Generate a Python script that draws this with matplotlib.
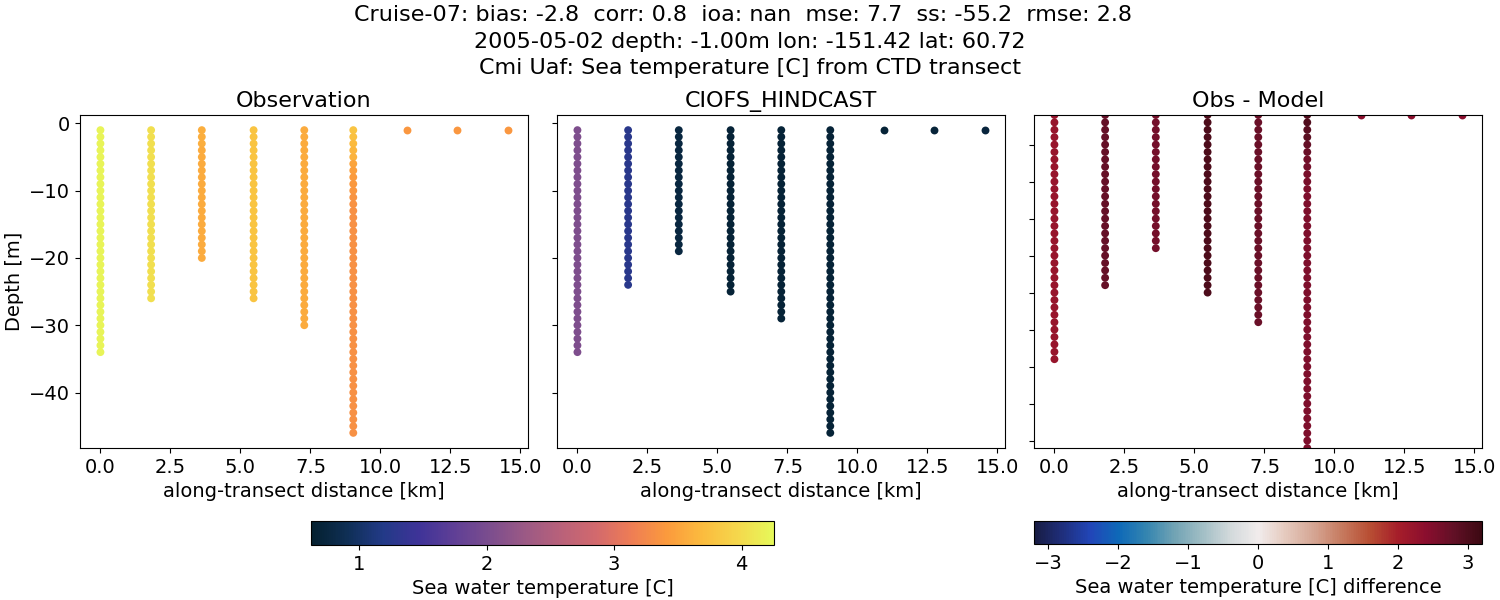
import matplotlib
matplotlib.use("Agg")
import matplotlib.pyplot as plt
from matplotlib.colors import LinearSegmentedColormap, Normalize
from matplotlib.cm import ScalarMappable

plt.rcParams["font.size"] = 14

SUPTITLE = ("Cruise-07: bias: -2.8  corr: 0.8  ioa: nan  mse: 7.7  ss: -55.2  rmse: 2.8  \n"
            "2005-05-02 depth: -1.00m lon: -151.42 lat: 60.72\n"
            "Cmi Uaf: Sea temperature [C] from CTD transect")

# station positions along the transect, km
distance = [0.0, 1.81, 3.62, 5.47, 7.28, 9.03, 10.94, 12.74, 14.55]

depths = [-1, -2, -3, -4, -5, -6, -7, -8, -9, -10, -11, -12, -13, -14, -15, -16,
          -17, -18, -19, -20, -21, -22, -23, -24, -25, -26, -27, -28, -29, -30,
          -31, -32, -33, -34, -35, -36, -37, -38, -39, -40, -41, -42, -43, -44,
          -45, -46]

# one temperature list per station, top to bottom
obs_temp = [
    [4.2] * 34,
    [4.03] * 26,
    [3.58, 3.58, 3.58, 3.55, 3.55, 3.55, 3.55, 3.55, 3.55, 3.55, 3.55, 3.55,
     3.55, 3.55, 3.55, 3.55, 3.55, 3.55, 3.55, 3.55],
    [3.78] * 26,
    [3.55] * 30,
    [3.78, 3.75, 3.68, 3.65, 3.62, 3.5, 3.45, 3.42, 3.4, 3.38, 3.35, 3.34, 3.33,
     3.33, 3.33, 3.33, 3.33, 3.33, 3.33, 3.33, 3.33, 3.33, 3.33, 3.33, 3.33,
     3.33, 3.33, 3.33, 3.33, 3.33, 3.33, 3.33, 3.33, 3.33, 3.33, 3.33, 3.33,
     3.33, 3.33, 3.33, 3.33, 3.33, 3.33, 3.33, 3.33, 3.33],
    [3.38],
    [3.38],
    [3.38],
]
model_temp = [
    [2.05] * 34,
    [1.25] * 24,
    [0.76] * 19,
    [0.68] * 25,
    [0.68] * 29,
    [0.68] * 46,
    [0.69],
    [0.7],
    [0.72],
]
diff_temp = [
    [2.22] * 34,
    [2.75] * 24,
    [2.62] * 19,
    [3.02] * 25,
    [2.72] * 29,
    [2.95, 2.95, 2.9, 2.85, 2.75, 2.7, 2.65, 2.6, 2.55, 2.55, 2.52, 2.5, 2.5, 2.5,
     2.5, 2.5, 2.5, 2.5, 2.5, 2.5, 2.5, 2.5, 2.5, 2.5, 2.5, 2.5, 2.5, 2.5, 2.5,
     2.5, 2.5, 2.5, 2.5, 2.5, 2.5, 2.5, 2.5, 2.5, 2.5, 2.5, 2.5, 2.5, 2.5, 2.5,
     2.5, 2.5],
    [2.4],
    [2.4],
    [2.4],
]

thermal_colors = ["#04202f", "#0f2f55", "#223a87", "#3e3398", "#5f3f96", "#7b4d8e",
                  "#9b5985", "#b8617a", "#d2696d", "#ee7d55", "#fb9a3d", "#fbbb3e",
                  "#f5d74c", "#e6f95a"]
balance_colors = ["#181c43", "#1f2f7d", "#2146b8", "#0e69b8", "#3485b0", "#71a3b4",
                  "#a1bec5", "#d2d9db", "#f1ecec", "#e5c9bd", "#d5a593", "#c67a5f",
                  "#b84e33", "#a61e2a", "#8b0e2e", "#621026", "#3c0912"]
cmap_temp = LinearSegmentedColormap.from_list("thermal", thermal_colors)
cmap_diff = LinearSegmentedColormap.from_list("balance", balance_colors)
norm_temp = Normalize(0.62, 4.255)
norm_diff = Normalize(-3.2, 3.2)

fig = plt.figure(figsize=(15, 6), dpi=100)


def add_panel(left, title, temps, cmap, norm):
    ax = fig.add_axes([left / 1500, 1 - 448 / 600, 448 / 1500, 333 / 600])
    for x, column in zip(distance, temps):
        ax.scatter([x] * len(column), depths[: len(column)], c=column, cmap=cmap,
                   norm=norm, s=32, linewidths=0)
    ax.set_xlim(-0.73, 15.27)
    ax.set_xlabel("along-transect distance [km]")
    ax.set_title(title, fontsize=16)
    return ax


ax_obs = add_panel(80, "Observation", obs_temp, cmap_temp, norm_temp)
ax_mod = add_panel(557, "CIOFS_HINDCAST", model_temp, cmap_temp, norm_temp)
ax_diff = add_panel(1034, "Obs - Model", diff_temp, cmap_diff, norm_diff)

ax_obs.set_ylim(-48.25, 1.25)
ax_mod.set_ylim(-48.25, 1.25)
ax_obs.set_yticks([0, -10, -20, -30, -40])
ax_mod.set_yticks([0, -10, -20, -30, -40])
ax_mod.set_yticklabels([])
ax_obs.set_ylabel("Depth [m]")

# the difference panel has its own, unlabelled depth scale
ax_diff.set_ylim(-46, -1)
ax_diff.set_yticks([-5, -10, -15, -20, -25, -30, -35, -40, -45])
ax_diff.set_yticklabels([])

cax1 = fig.add_axes([311 / 1500, 1 - 545 / 600, 463 / 1500, 24 / 600])
cb1 = fig.colorbar(ScalarMappable(norm_temp, cmap_temp), cax=cax1, orientation="horizontal")
cb1.set_ticks([1, 2, 3, 4])
cb1.set_label("Sea water temperature [C]")

cax2 = fig.add_axes([1034 / 1500, 1 - 544 / 600, 448 / 1500, 23 / 600])
cb2 = fig.colorbar(ScalarMappable(norm_diff, cmap_diff), cax=cax2, orientation="horizontal")
cb2.set_ticks([-3, -2, -1, 0, 1, 2, 3])
cb2.set_label("Sea water temperature [C] difference")

fig.suptitle(SUPTITLE, fontsize=16, x=0.5, y=0.992, linespacing=1.42)

fig.savefig("out.png", dpi=100)
